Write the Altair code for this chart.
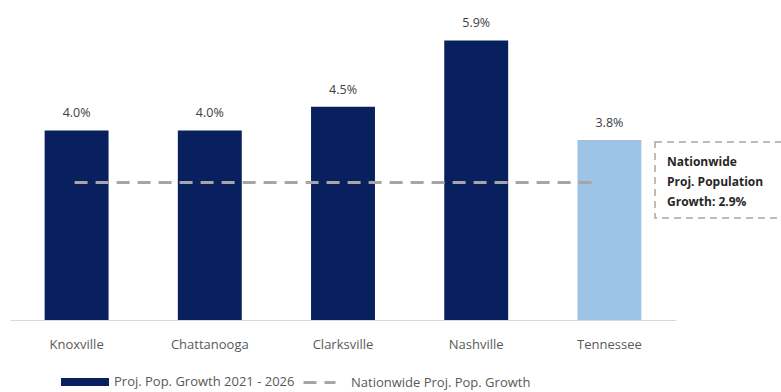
import altair as alt
import pandas as pd

cities = ["Knoxville", "Chattanooga", "Clarksville", "Nashville", "Tennessee"]
growth = [4.0, 4.0, 4.5, 5.9, 3.8]
labels = ["4.0%", "4.0%", "4.5%", "5.9%", "3.8%"]
series = ["Proj. Pop. Growth 2021 - 2026"] * 4 + ["Tennessee"]
national = 2.9
national_name = "Nationwide Proj. Pop. Growth"
note = ["Nationwide", "Proj. Population", "Growth: 2.9%"]

NAVY = "#08205E"
LIGHT = "#9DC3E6"
GRAY = "#A6A6A6"
FONT = "Open Sans"

df = pd.DataFrame({"city": cities, "growth": growth, "label": labels, "series": series})
nat = pd.DataFrame({"start": [cities[0]], "end": [cities[-1]], "v": [national], "name": [national_name]})
notedf = pd.DataFrame({"v": [national], "t": ["\n".join(note)]})

xscale = alt.Scale(domain=cities, paddingInner=0.52, paddingOuter=0.26)
xenc = alt.X("city:N", scale=xscale, title=None,
             axis=alt.Axis(labelAngle=0, ticks=False, domainColor="#D9D9D9", domainWidth=1,
                           labelColor="#595959", labelFont=FONT, labelFontSize=13,
                           labelPadding=18))
yscale = alt.Scale(domain=[0, 6.5])

bars = alt.Chart(df).mark_bar().encode(
    x=xenc,
    y=alt.Y("growth:Q", scale=yscale, axis=None),
    color=alt.Color("series:N",
                    scale=alt.Scale(domain=["Proj. Pop. Growth 2021 - 2026", "Tennessee"], range=[NAVY, LIGHT]),
                    legend=alt.Legend(title=None, values=["Proj. Pop. Growth 2021 - 2026"], orient="none",
                                      legendX=50, legendY=345,
                                      symbolType="M-1,-0.17H1V0.17H-1Z", symbolSize=2304,
                                      labelFont=FONT, labelFontSize=13, labelColor="#595959",
                                      labelOffset=4, labelLimit=400, padding=0)),
)

text = alt.Chart(df).mark_text(baseline="alphabetic", dy=-13, font=FONT, fontSize=12.5, color="#404040").encode(
    x=alt.X("city:N", scale=xscale),
    y=alt.Y("growth:Q", scale=yscale),
    text="label:N",
)

rule = alt.Chart(nat).mark_rule(strokeWidth=3, color=GRAY, strokeCap="butt", xOffset=-2, x2Offset=-13).encode(
    x=alt.X("start:N", scale=xscale),
    x2="end:N",
    y=alt.Y("v:Q", scale=yscale),
    strokeDash=alt.StrokeDash("name:N", scale=alt.Scale(range=[[13, 8]]),
                              legend=alt.Legend(title=None, orient="none", legendX=292, legendY=353,
                                                symbolType="stroke", symbolSize=1024,
                                                symbolStrokeColor=GRAY, symbolStrokeWidth=3,
                                                labelFont=FONT, labelFontSize=13, labelColor="#595959",
                                                labelOffset=14, labelLimit=400, padding=0)),
)

box = alt.Chart(notedf).mark_rect(fill="white", stroke=GRAY, strokeWidth=1.5, strokeDash=[7, 5]).encode(
    x=alt.value(645), x2=alt.value(800), y=alt.value(130), y2=alt.value(206)
)

notetext = alt.Chart(notedf).mark_text(align="left", baseline="middle", dy=-21, font=FONT, fontSize=12,
                                       fontWeight="bold", color="#262626", lineBreak="\n",
                                       lineHeight=20).encode(
    x=alt.value(657),
    y=alt.Y("v:Q", scale=yscale),
    text="t:N",
)

chart = alt.layer(bars, rule, text, box, notetext).properties(
    width=666, height=308,
    autosize=alt.AutoSizeParams(type="none"),
    padding={"left": 10, "top": 12, "right": 105, "bottom": 72},
).configure(background="white").configure_view(stroke=None)

chart.save("out.html", embed_options={"renderer": "svg", "actions": False})
